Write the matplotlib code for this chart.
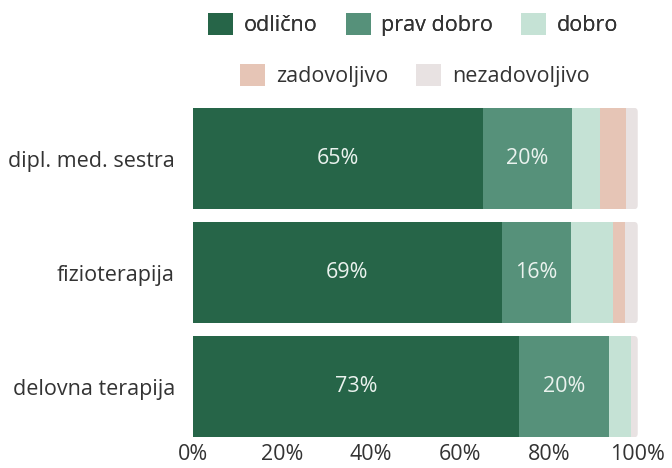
import matplotlib
matplotlib.use('Agg')
import matplotlib.pyplot as plt
from matplotlib.patches import FancyBboxPatch
import numpy as np

plt.rcParams['font.family'] = ['Open Sans', 'DejaVu Sans']

groups = ['dipl. med. sestra', 'fizioterapija', 'delovna terapija']
series = ['odlično', 'prav dobro', 'dobro', 'zadovoljivo', 'nezadovoljivo']
odlicno = [65.2, 69.4, 73.3]
prav_dobro = [20.0, 15.7, 20.3]
dobro = [6.3, 9.4, 4.8]
zadovoljivo = [5.8, 2.7, 0.0]
nezadovoljivo = [2.7, 2.8, 1.6]
colors = ['#266548', '#56917a', '#c5e2d5', '#e6c5b6', '#e8e2e2']
bar_h = 0.89


def plot():
    values = [odlicno, prav_dobro, dobro, zadovoljivo, nezadovoljivo]
    fig = plt.figure(figsize=(6.72, 4.68), dpi=100)
    ax = fig.add_axes([0.287, 0.064, 0.662, 0.707])
    ax.set_xlim(0, 100)
    ax.set_ylim(2.45, -0.45)
    y = np.arange(len(groups))
    left = np.zeros(len(groups))
    rows = [[] for _ in groups]
    for name, vals, col in zip(series, values, colors):
        vals = np.asarray(vals)
        bars = ax.barh(y, vals, left=left, height=bar_h, color=col, label=name)
        for i, b in enumerate(bars):
            rows[i].append(b)
        if name in ('odlično', 'prav dobro'):
            ax.bar_label(bars, labels=['%d%%' % round(v) for v in vals],
                         label_type='center', color='#eaf2ee', fontsize=15.5)
        left += vals

    # round off the right end of each bar (about 4 px)
    px = ax.transData.transform([(0, 0), (1, 1)])
    aspect = abs(px[1, 0] - px[0, 0]) / abs(px[1, 1] - px[0, 1])
    r = 4 / abs(px[1, 0] - px[0, 0])
    for i, patches in enumerate(rows):
        clip = FancyBboxPatch((-5, y[i] - bar_h / 2), left[i] + 5, bar_h,
                              boxstyle='round,pad=0,rounding_size=%g' % r,
                              mutation_aspect=aspect, transform=ax.transData)
        for p in patches:
            p.set_clip_path(clip)

    ax.set_yticks(y)
    ax.set_yticklabels(groups)
    ax.set_xticks(range(0, 101, 20))
    ax.set_xticklabels(['%d%%' % t for t in range(0, 101, 20)])
    ax.tick_params(length=0, labelsize=15.5, labelcolor='#333333')
    ax.tick_params(axis='y', pad=13)
    ax.tick_params(axis='x', pad=4)
    for s in ax.spines.values():
        s.set_visible(False)

    handles, labels = ax.get_legend_handles_labels()
    kw = dict(frameon=False, fontsize=15.5, handlelength=1.16, handleheight=1.16,
              handletextpad=0.5, columnspacing=1.3, labelcolor='#333333',
              borderpad=0, borderaxespad=0)
    leg1 = fig.legend(handles[:3], labels[:3], ncol=3, loc='center',
                      bbox_to_anchor=(0.615, 0.947), **kw)
    fig.legend(handles[3:], labels[3:], ncol=2, loc='center',
               bbox_to_anchor=(0.617, 0.838), **kw)
    fig.add_artist(leg1)
    fig.savefig('out.png', dpi=100)


plot()
